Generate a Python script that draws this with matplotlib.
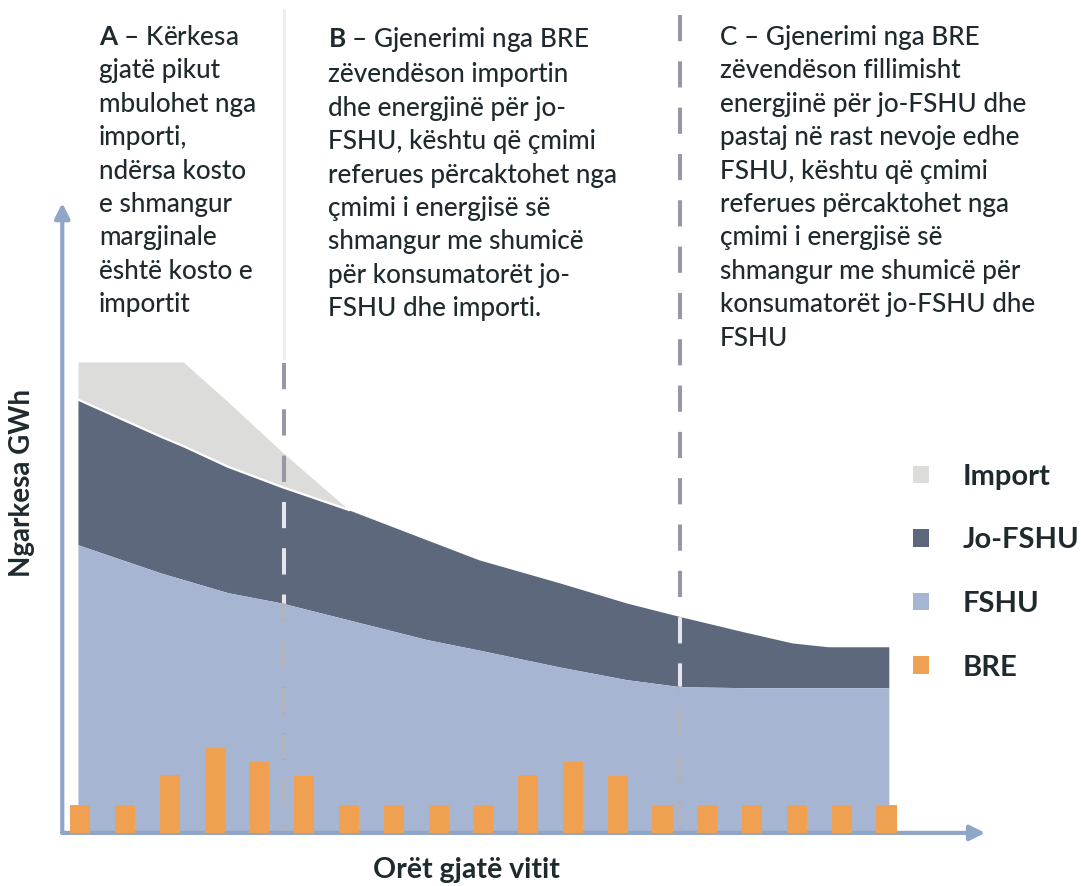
import numpy as np
import matplotlib
matplotlib.use('Agg')
import matplotlib.pyplot as plt
from matplotlib.patches import Patch

plt.rcParams['font.family'] = ['Lato', 'DejaVu Sans']
plt.rcParams['mathtext.fontset'] = 'custom'
plt.rcParams['mathtext.rm'] = 'Lato'
plt.rcParams['mathtext.bf'] = 'Lato:bold'

# Profili i ngarkesës (shtresat e grumbulluara), orët e vitit si indeks
area_hours = [-0.05, 1.8, 2.3, 3.3, 4.5, 6.0, 7.75, 8.9, 10.7, 12.2, 13.4, 14.8, 15.9, 16.7, 18.05]
fshu = [61.3, 55.3, 53.9, 51.1, 48.9, 45.3, 41.1, 38.9, 35.3, 32.6, 31.1, 30.9, 30.9, 30.9, 30.9]
jo_fshu = [30.9, 29.0, 28.4, 26.8, 24.7, 23.4, 21.2, 19.2, 17.9, 16.3, 14.9, 11.9, 9.5, 8.7, 8.7]
imports = [8.0, 15.9, 17.9, 13.8, 7.5, 0, 0, 0, 0, 0, 0, 0, 0, 0, 0]

# Gjenerimi nga BRE
bar_hours = list(range(19))
bre = [6.0, 6.0, 12.3, 18.1, 15.1, 12.1, 6.0, 6.0, 6.0, 6.0,
       12.3, 15.1, 12.1, 6.0, 6.0, 6.0, 6.0, 6.0, 6.0]

# kufijtë e zonave A/B/C
boundaries = [4.55, 13.4]

legend_labels = ['Import', 'Jo-FSHU', 'FSHU', 'BRE']

text_a = ["$\\mathbf{A}$ – Kërkesa", "gjatë pikut", "mbulohet nga", "importi,",
          "ndërsa kosto", "e shmangur", "margjinale", "është kosto e", "importit"]
text_b = ["$\\mathbf{B}$ – Gjenerimi nga BRE", "zëvendëson importin", "dhe energjinë për jo-",
          "FSHU, kështu që çmimi", "referues përcaktohet nga", "çmimi i energjisë së",
          "shmangur me shumicë", "për konsumatorët jo-", "FSHU dhe importi."]
text_c = ["C – Gjenerimi nga BRE", "zëvendëson fillimisht", "energjinë për jo-FSHU dhe",
          "pastaj në rast nevoje edhe", "FSHU, kështu që çmimi", "referues përcaktohet nga",
          "çmimi i energjisë së", "shmangur me shumicë për", "konsumatorët jo-FSHU dhe", "FSHU"]

c_import = '#dcdcdb'
c_jo = '#5e687c'
c_fshu = '#a6b6d2'
c_bre = '#efa050'
c_axis = '#8fa6c8'
c_dash = '#9797a6'
c_text = '#1f2a2f'

fig = plt.figure(figsize=(10.81, 8.86), dpi=100)
ax = fig.add_axes([0, 0, 1, 1])
ax.set_xlim(-1.79, 22.34)
ax.set_ylim(-11.3, 177.2)
ax.axis('off')

x = np.array(area_hours)
f_top = np.array(fshu)
j_top = f_top + np.array(jo_fshu)
i_top = j_top + np.array(imports)

ax.fill_between(x, j_top, i_top, color=c_import, lw=0, zorder=1)
jo_poly = ax.fill_between(x, f_top, j_top, color=c_jo, lw=0, zorder=2)
fs_poly = ax.fill_between(x, 0, f_top, color=c_fshu, lw=0, zorder=2)
ax.plot(x[:6], j_top[:6], color='white', lw=1.6, zorder=3)

ax.bar(bar_hours, bre, width=0.45, color=c_bre, zorder=5)

# vijat ndarëse
dash = (0, (6.5, 5))
ax.plot([boundaries[0]] * 2, [175, 101], color='#ededf0', lw=2, zorder=0)
ax.plot([boundaries[0]] * 2, [100, 0], color=c_dash, lw=2.9, ls=dash, zorder=3)
ax.plot([boundaries[1]] * 2, [174, 0], color=c_dash, lw=2.9, ls=dash, zorder=3)
for b, top in [(boundaries[0], 100), (boundaries[1], 174)]:
    l1, = ax.plot([b, b], [top, 0], color='#e4e6ec', lw=2.9, ls=dash, zorder=4)
    l1.set_clip_path(jo_poly.get_paths()[0], ax.transData)
    l2, = ax.plot([b, b], [top, 0], color='#b3b2bd', lw=2.9, ls=dash, zorder=4)
    l2.set_clip_path(fs_poly.get_paths()[0], ax.transData)

# boshtet me shigjeta
arrow = dict(arrowstyle='-|>,head_length=0.9,head_width=0.45', color=c_axis,
             lw=3, shrinkA=0, shrinkB=0)
ax.annotate('', xy=(-0.4, 134), xytext=(-0.4, 0), arrowprops=arrow, zorder=4)
ax.annotate('', xy=(20.2, 0), xytext=(-0.4, 0), arrowprops=arrow, zorder=4)

# tekstet
W, H = 1081, 886
for lines, px in [(text_a, 99), (text_b, 328), (text_c, 720)]:
    fig.text(px / W, 1 - 25 / H, '\n'.join(lines), fontsize=18.8, color=c_text,
             fontweight='medium', va='top', ha='left', linespacing=1.42)

fig.text(22 / W, 1 - 483 / H, 'Ngarkesa GWh', rotation=90, fontsize=20,
         fontweight='bold', color=c_text, ha='center', va='center')
fig.text(466 / W, 1 - 870 / H, 'Orët gjatë vitit', fontsize=20.5,
         fontweight='bold', color=c_text, ha='center', va='center')

handles = [Patch(facecolor=c, edgecolor='none') for c in [c_import, c_jo, c_fshu, c_bre]]
fig.legend(handles, legend_labels, loc='upper left', bbox_to_anchor=(901 / W, 1 - 452 / H),
           frameon=False, prop=dict(weight='bold', size=21), labelcolor=c_text,
           borderaxespad=0, handlelength=0.55, handleheight=0.55,
           handletextpad=1.15, labelspacing=1.29)

fig.savefig('out.png', dpi=100)
